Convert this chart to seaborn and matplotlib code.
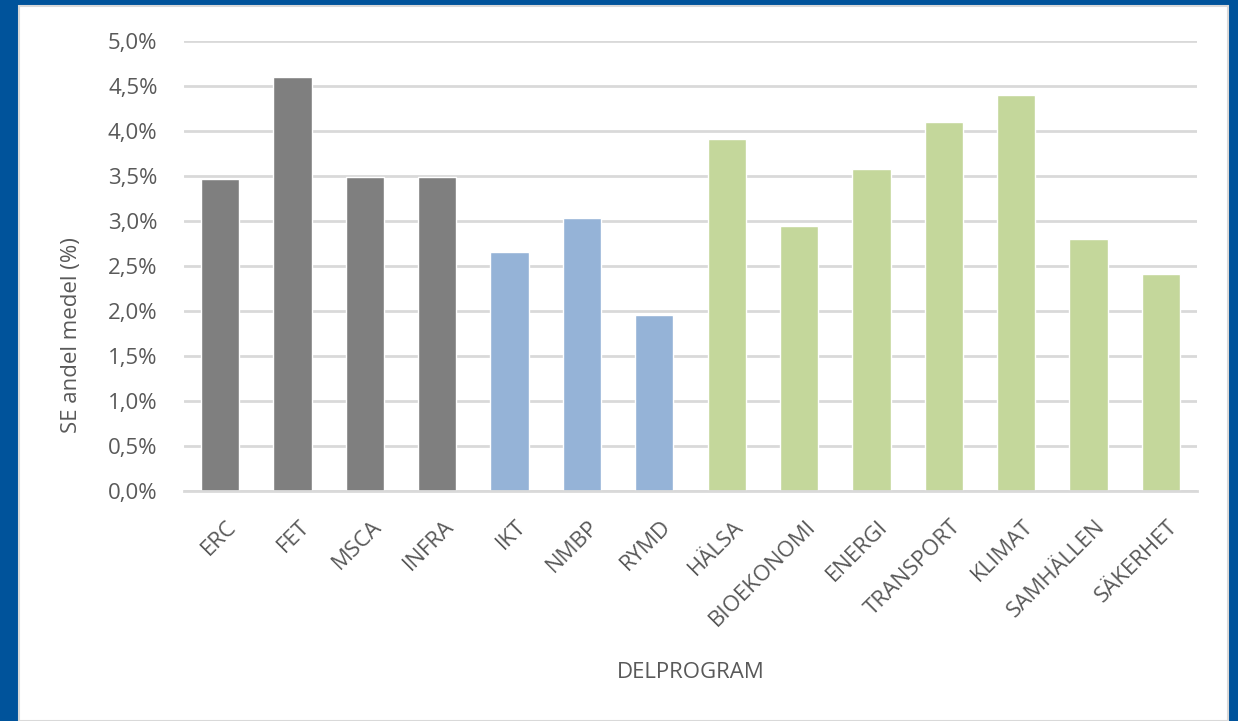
import matplotlib
matplotlib.use("Agg")
import matplotlib.pyplot as plt
import matplotlib.transforms as mtransforms
import seaborn as sns
import pandas as pd
from matplotlib.patches import Rectangle
from matplotlib.ticker import FuncFormatter, MultipleLocator

categories = ["ERC", "FET", "MSCA", "INFRA", "IKT", "NMBP", "RYMD", "HÄLSA",
              "BIOEKONOMI", "ENERGI", "TRANSPORT", "KLIMAT", "SAMHÄLLEN", "SÄKERHET"]
share = [3.47, 4.60, 3.49, 3.49, 2.66, 3.03, 1.96, 3.91,
         2.95, 3.58, 4.10, 4.40, 2.80, 2.41]
group = ["excellence"] * 4 + ["industry"] * 3 + ["society"] * 7
group_colors = {"excellence": "#7F7F7F", "industry": "#95B3D7", "society": "#C4D79B"}

df = pd.DataFrame({"delprogram": categories, "andel": [v / 100 for v in share], "grupp": group})

sns.set_theme(style="white")
plt.rcParams["font.family"] = ["Open Sans", "DejaVu Sans"]
text_col = "#595959"
grid_col = "#D9D9D9"

fig = plt.figure(figsize=(12.38, 7.21), dpi=100)
fig.patch.set_facecolor("#00539B")
# white inner panel
fig.patches.append(Rectangle((19 / 1238, 0), (1228 - 19) / 1238, 1 - 6 / 721,
                             transform=fig.transFigure, facecolor="white",
                             edgecolor="#D9D9D9", linewidth=1.5, zorder=-10))

ax = fig.add_axes([184 / 1238, 1 - 491 / 721, (1197 - 184) / 1238, (491 - 41) / 721])
ax.set_facecolor("none")
sns.barplot(data=df, x="delprogram", y="andel", hue="grupp", palette=group_colors,
            dodge=False, width=0.53, saturation=1, legend=False, ax=ax, zorder=3)

ax.set_ylim(0, 0.05)
ax.set_xlim(-0.5, len(categories) - 0.5)
ax.yaxis.set_major_locator(MultipleLocator(0.005))
ax.yaxis.set_major_formatter(FuncFormatter(lambda v, p: f"{v * 100:.1f}%".replace(".", ",")))
ax.grid(axis="y", color=grid_col, linewidth=2, zorder=0)
ax.set_axisbelow(True)

for s in ["top", "right", "left"]:
    ax.spines[s].set_visible(False)
ax.spines["bottom"].set_color(grid_col)
ax.spines["bottom"].set_linewidth(2)
ax.spines["bottom"].set_zorder(4)

ax.tick_params(axis="y", length=0, pad=19, labelsize=16, labelcolor=text_col)
ax.tick_params(axis="x", which="major", length=0, pad=18, labelsize=16, labelcolor=text_col)
ax.set_xticks([i - 0.5 for i in range(len(categories) + 1)], minor=True)
ax.tick_params(axis="x", which="minor", length=8, width=2, color=grid_col, direction="out")
ax.set_xticks(range(len(categories)))
ax.set_xticklabels(categories, rotation=45, ha="right", rotation_mode="anchor")
shift = mtransforms.ScaledTranslation(6 / 100, 0, fig.dpi_scale_trans)
for lbl in ax.get_xticklabels():
    lbl.set_transform(lbl.get_transform() + shift)

ax.set_ylabel("SE andel medel (%)", fontsize=16, color=text_col)
ax.yaxis.set_label_coords((82 - 184) / 1013, 0.347)
ax.set_xlabel("DELPROGRAM", fontsize=16, color=text_col)
ax.xaxis.set_label_coords(0.5, (491 - 662) / 450)

fig.savefig("out.png", dpi=100, facecolor=fig.get_facecolor())
